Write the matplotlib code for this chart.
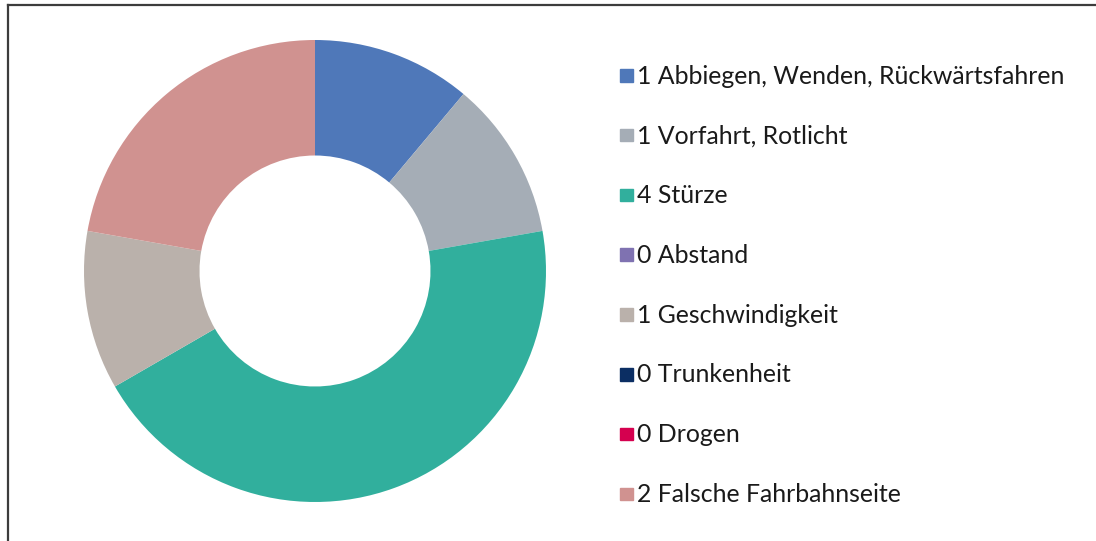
import matplotlib
matplotlib.use('Agg')
import matplotlib.pyplot as plt
from matplotlib.patches import Rectangle
from matplotlib.lines import Line2D

plt.rcParams['font.family'] = ['Lato', 'DejaVu Sans']

# Data
categories = ['Abbiegen, Wenden, Rückwärtsfahren', 'Vorfahrt, Rotlicht', 'Stürze', 'Abstand',
              'Geschwindigkeit', 'Trunkenheit', 'Drogen', 'Falsche Fahrbahnseite']
counts = [1, 1, 4, 0, 1, 0, 0, 2]
colors = ['#4F78B9', '#A5ADB6', '#31AF9D', '#7F72B1', '#BAB1AB', '#0B2E63', '#D5004F', '#D09290']

W, H = 1096, 541
fig = plt.figure(figsize=(W / 100, H / 100), dpi=100)

# Donut: centre at (315, 271) px, outer radius 231 px
cx, cy, r = 315, 271, 231
ax = fig.add_axes([(cx - r) / W, (H - cy - r) / H, 2 * r / W, 2 * r / H])
ax.pie(counts, colors=colors, startangle=90, counterclock=False, radius=1,
       wedgeprops=dict(width=0.5, linewidth=0))
ax.set_xlim(-1, 1)
ax.set_ylim(-1, 1)
ax.set_aspect('equal')
ax.axis('off')

# Legend drawn by hand
y0, step = 75, 59.8
for i, (cat, n, col) in enumerate(zip(categories, counts, colors)):
    y = y0 + i * step
    fig.patches.append(Rectangle((620 / W, (H - y - 6.5) / H), 12.5 / W, 12.5 / H,
                                 transform=fig.transFigure, color=col, figure=fig))
    fig.text(637 / W, (H - y - 1) / H, f'{n} {cat}', fontsize=17.9, color='#1a1a1a',
             va='center', ha='left')

# Frame lines (top and left)
fig.add_artist(Line2D([8 / W, 1], [(H - 5) / H, (H - 5) / H], color='#3c3c3c', lw=1.6))
fig.add_artist(Line2D([8 / W, 8 / W], [0, (H - 5) / H], color='#3c3c3c', lw=1.6))

fig.savefig('out.png', dpi=100)
